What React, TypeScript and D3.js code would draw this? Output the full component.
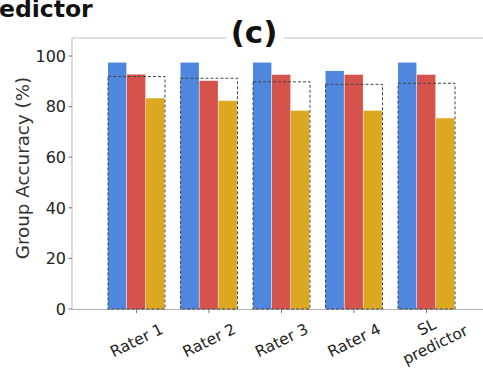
import React from "react";
import * as d3 from "d3";

const categories = ["Rater 1", "Rater 2", "Rater 3", "Rater 4", "SL\npredictor"];
const seriesA = [97.4, 97.4, 97.4, 94.1, 97.4];
const seriesB = [92.7, 90.2, 92.6, 92.6, 92.6];
const seriesC = [83.3, 82.3, 78.4, 78.4, 75.4];
const boxValues = [91.9, 91.2, 89.8, 88.8, 89.2];
const yTicks = [0, 20, 40, 60, 80, 100];
const colors = ["#4f86de", "#d6534b", "#dca821"];

export default function App() {
  const W = 483, H = 371;
  const left = 72, top = 38, bottom = 309;
  const y = d3.scaleLinear().domain([0, 100]).range([bottom, 56]);
  const x = d3.scaleBand().domain(categories).range([71.5, 491.5]).paddingInner(0.214).paddingOuter(0.503);
  const sub = d3.scaleBand().domain(["a", "b", "c"]).range([0, x.bandwidth()]);
  const series = [seriesA, seriesB, seriesC];
  const font = "DejaVu Sans, sans-serif";
  return (
    <svg width={W} height={H} style={{ position: "absolute", left: 0, top: 0, background: "#fff" }}>
      <rect width={W} height={H} fill="#fff" />
      <text x={-1} y={17} fontFamily={font} fontWeight="bold" fontSize={23.5} fill="#111">edictor</text>
      {/* spines */}
      <line x1={left} x2={W} y1={top} y2={top} stroke="#c4c4c4" strokeWidth={1.2} />
      <line x1={left} x2={left} y1={top} y2={bottom + 0.5} stroke="#c4c4c4" strokeWidth={1.2} />
      <line x1={left} x2={W} y1={bottom + 0.5} y2={bottom + 0.5} stroke="#b0b0b0" strokeWidth={1.2} />
      {/* title */}
      <rect x={226} y={18} width={58} height={32} fill="#fff" />
      <text x={254} y={43} textAnchor="middle" fontFamily={font} fontWeight="bold" fontSize={31} fill="#111">(c)</text>
      {/* y ticks */}
      {yTicks.map((t) => (
        <g key={t}>
          <line x1={left - 3.5} x2={left} y1={y(t)} y2={y(t)} stroke="#777" />
          <text x={left - 6} y={y(t)} dy="0.36em" textAnchor="end" fontFamily={font} fontSize={16} fill="#222">{t}</text>
        </g>
      ))}
      <text transform={`translate(22,168) rotate(-90)`} textAnchor="middle" dy="0.36em" fontFamily={font} fontSize={18.3} fill="#333">Group Accuracy (%)</text>
      {/* bars */}
      {categories.map((c, i) => {
        const gx = x(c)!;
        return (
          <g key={c}>
            {series.map((s, j) => (
              <rect key={j} x={gx + sub(["a", "b", "c"][j])!} y={y(s[i])} width={sub.bandwidth() - 0.6} height={bottom - y(s[i])} fill={colors[j]} />
            ))}
            <rect x={gx} y={y(boxValues[i])} width={x.bandwidth()} height={bottom - y(boxValues[i])} fill="none" stroke="#444" strokeWidth={1} strokeDasharray="3,2" />
            <line x1={gx + x.bandwidth() / 2} x2={gx + x.bandwidth() / 2} y1={bottom + 0.5} y2={bottom + 4} stroke="#777" />
          </g>
        );
      })}
      {/* x labels */}
      {categories.map((c, i) => {
        const cx = x(c)! + x.bandwidth() / 2;
        const lines = c.split("\n");
        const multi = lines.length > 1;
        const ty = multi ? 327 : 340;
        return (
          <text key={c} transform={`translate(${cx},${ty}) rotate(-26)`} textAnchor="middle" fontFamily={font} fontSize={15.5} fill="#222">
            {lines.map((l, k) => (
              <tspan key={k} x={0} dy={k === 0 ? "0.36em" : "1.25em"}>{l}</tspan>
            ))}
          </text>
        );
      })}
    </svg>
  );
}
